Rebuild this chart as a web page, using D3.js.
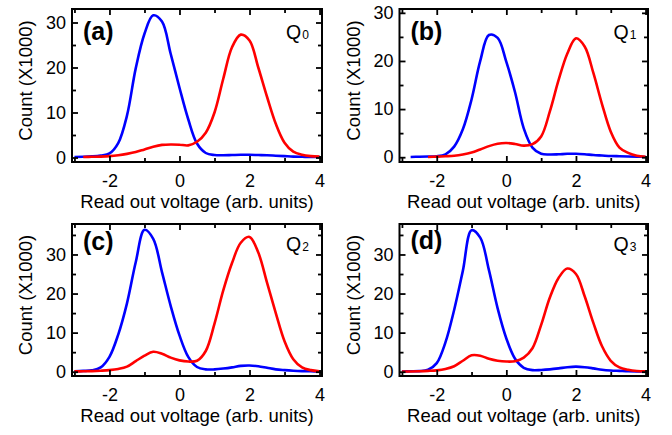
<!DOCTYPE html>
<html>
<head>
<meta charset="utf-8">
<script src="https://cdn.jsdelivr.net/npm/d3@7"></script>
<style>
body { margin: 0; background: #fff; }
svg { display: block; font-family: "Liberation Sans", Arial, sans-serif; }
</style>
</head>
<body>
<svg width="672" height="435"></svg>
<script>
// read out voltage grid (arb. units)
var voltage = [-3, -2.75, -2.5, -2.25, -2, -1.75, -1.5, -1.25, -1, -0.75, -0.5, -0.25, 0, 0.25, 0.5, 0.75, 1, 1.25, 1.5, 1.75, 2, 2.25, 2.5, 2.75, 3, 3.25, 3.5, 3.75, 4];

// counts (x1000), null = no data
var blueA = [0.1, 0.15, 0.25, 0.45, 0.9, 3.2, 9.3, 19.8, 27.5, 31.6, 30.2, 23.0, 15.5, 8.5, 3.1, 1.0, 0.55, 0.5, 0.55, 0.6, 0.6, 0.55, 0.5, 0.4, 0.3, 0.2, 0.15, 0.1, 0.1];
var redA = [null, 0.1, 0.15, 0.2, 0.3, 0.5, 0.8, 1.2, 1.8, 2.4, 2.8, 2.9, 2.85, 2.7, 3.5, 5.5, 10.0, 17.5, 24.5, 27.3, 26.0, 20.0, 13.5, 7.5, 3.3, 1.3, 0.6, 0.3, 0.2];

var blueB = [null, 0.05, 0.1, 0.15, 0.2, 0.6, 2.2, 5.8, 12.0, 20.0, 25.4, 24.8, 19.8, 13.5, 6.0, 2.0, 0.7, 0.55, 0.6, 0.7, 0.7, 0.6, 0.45, 0.35, 0.25, 0.2, 0.15, 0.1, 0.05];
var redB = [null, null, null, 0.05, 0.12, 0.2, 0.3, 0.55, 0.95, 1.6, 2.3, 2.8, 2.95, 2.75, 2.4, 2.7, 4.3, 9.5, 16.0, 21.5, 24.7, 23.0, 17.5, 11.0, 5.3, 2.0, 0.9, 0.3, 0.1];

var blueC = [0.1, 0.2, 0.35, 1.1, 3.8, 9.5, 17.5, 28.0, 36.3, 34.0, 25.5, 16.8, 9.3, 3.8, 1.2, 0.6, 0.6, 0.8, 1.1, 1.5, 1.6, 1.4, 1.0, 0.6, 0.4, 0.25, 0.15, 0.1, 0.05];
var redC = [0.1, 0.1, 0.15, 0.25, 0.4, 0.7, 1.3, 2.7, 4.1, 5.1, 4.6, 3.6, 2.9, 2.6, 2.8, 5.3, 12.3, 20.8, 27.8, 33.0, 34.5, 30.5, 22.8, 15.0, 7.8, 3.2, 1.1, 0.4, 0.1];

var blueD = [0.05, 0.1, 0.15, 0.5, 2.2, 7.5, 15.8, 25.8, 36.2, 34.3, 26.0, 16.2, 8.5, 3.3, 1.0, 0.4, 0.45, 0.6, 0.85, 1.15, 1.3, 1.15, 0.85, 0.5, 0.3, 0.2, 0.1, 0.05, 0.05];
var redD = [0.05, 0.05, 0.1, 0.2, 0.35, 0.7, 1.4, 2.8, 4.2, 4.1, 3.3, 2.8, 2.6, 2.7, 3.6, 6.0, 12.0, 19.0, 24.0, 26.4, 25.0, 19.3, 12.5, 6.5, 2.8, 1.1, 0.5, 0.2, 0.1];

var panelLabels = ["(a)", "(b)", "(c)", "(d)"];
var qubitIndex = ["0", "1", "2", "3"];
var xMajorTicks = [-2, 0, 2, 4];
var xMinorTicks = [-3, -1, 1, 3];
var yMajorTicks = [0, 10, 20, 30];
var yMinorTicks = [5, 15, 25, 35];
var xTitle = "Read out voltage (arb. units)";
var yTitle = "Count (X1000)";

var panels = [
  {blue: blueA, red: redA, left: 72, right: 322, top: 9, bottom: 162, yMin: -1, yMax: 33, labelY: 40, qY: 39},
  {blue: blueB, red: redB, left: 399.5, right: 648, top: 9, bottom: 162, yMin: -1, yMax: 30.8, labelY: 40, qY: 39},
  {blue: blueC, red: redC, left: 72, right: 322, top: 224, bottom: 376, yMin: -1.1, yMax: 37.8, labelY: 250, qY: 251},
  {blue: blueD, red: redD, left: 399.5, right: 648, top: 224, bottom: 376, yMin: -1.1, yMax: 37.8, labelY: 249, qY: 251}
];

var svg = d3.select("svg");

panels.forEach(function(p, i) {
  var w = p.right - p.left,
      h = p.bottom - p.top;
  var x = d3.scaleLinear().domain([-3.07, 4.07]).range([0, w]);
  var y = d3.scaleLinear().domain([p.yMin, p.yMax]).range([h, 0]);

  var g = svg.append("g").attr("transform", "translate(" + p.left + "," + p.top + ")");

  g.append("clipPath").attr("id", "clip" + i)
    .append("rect").attr("width", w).attr("height", h);

  var line = d3.line()
    .defined(function(d) { return d[1] != null; })
    .x(function(d) { return x(d[0]); })
    .y(function(d) { return y(d[1]); })
    .curve(d3.curveCatmullRom.alpha(0.5));

  [[p.blue, "#0000ff"], [p.red, "#ff0000"]].forEach(function(s) {
    g.append("path")
      .datum(voltage.map(function(v, k) { return [v, s[0][k]]; }))
      .attr("clip-path", "url(#clip" + i + ")")
      .attr("fill", "none")
      .attr("stroke", s[1])
      .attr("stroke-width", 2.6)
      .attr("stroke-linejoin", "round")
      .attr("d", line);
  });

  function axis(gen, tr, vals, size, pad, labels) {
    var a = g.append("g")
      .attr("transform", tr)
      .call(gen.tickValues(vals).tickSize(-size).tickSizeOuter(0).tickPadding(pad)
        .tickFormat(labels ? function(d) { return d < 0 ? "-" + (-d) : d; } : ""));
    a.select(".domain").remove();
    a.selectAll("line").attr("stroke", "#000").attr("stroke-width", 1.8);
    a.selectAll("text").attr("fill", "#000").attr("font-size", 18).attr("font-family", null);
    return a;
  }
  var yTicks = yMajorTicks.filter(function(d) { return d <= p.yMax; }),
      yMinor = yMinorTicks.filter(function(d) { return d <= p.yMax; });

  axis(d3.axisBottom(x), "translate(0," + h + ")", xMajorTicks, 6, 12, true);
  axis(d3.axisBottom(x), "translate(0," + h + ")", xMinorTicks, 4, 0, false);
  axis(d3.axisTop(x), null, xMajorTicks, 6, 0, false);
  axis(d3.axisTop(x), null, xMinorTicks, 4, 0, false);
  axis(d3.axisLeft(y), null, yTicks, 6, 6, true);
  axis(d3.axisLeft(y), null, yMinor, 4, 0, false);
  axis(d3.axisRight(y), "translate(" + w + ",0)", yTicks, 6, 0, false);
  axis(d3.axisRight(y), "translate(" + w + ",0)", yMinor, 4, 0, false);

  g.append("rect")
    .attr("width", w).attr("height", h)
    .attr("fill", "none").attr("stroke", "#000").attr("stroke-width", 2);

  g.append("text")
    .attr("x", w / 2).attr("y", h + 46)
    .attr("text-anchor", "middle").attr("font-size", 18.5)
    .text(xTitle);

  g.append("text")
    .attr("transform", "translate(-40," + (h / 2 - 5) + ") rotate(-90)")
    .attr("text-anchor", "middle").attr("font-size", 18.5)
    .text(yTitle);

  g.append("text")
    .attr("x", 11).attr("y", p.labelY - p.top)
    .attr("font-size", 25).attr("font-weight", "bold")
    .text(panelLabels[i]);

  var q = g.append("text")
    .attr("x", 214).attr("y", p.qY - p.top)
    .attr("font-size", 19.5)
    .text("Q");
  q.append("tspan").attr("font-size", 12).attr("dx", 1).text(qubitIndex[i]);
});
</script>
</body>
</html>
